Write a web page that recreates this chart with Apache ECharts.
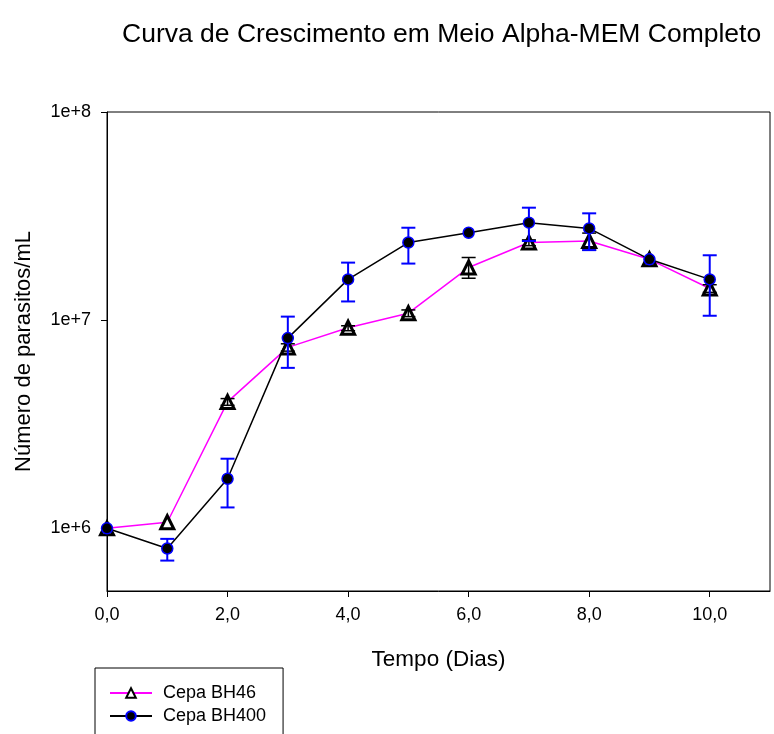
<!DOCTYPE html>
<html>
<head>
<meta charset="utf-8">
<script src="https://cdn.jsdelivr.net/npm/echarts@6/dist/echarts.min.js"></script>
<style>
html,body{margin:0;padding:0;background:#fff;}
#chart{width:774px;height:734px;}
</style>
</head>
<body>
<div id="chart"></div>
<script>
var days = [0, 1, 2, 3, 4, 5, 6, 7, 8, 9, 10];
var xTicks = [0, 2, 4, 6, 8, 10];

// Cepa BH46 (triangulos)
var bh46 = [1.0e6, 1.07e6, 4.05e6, 7.4e6, 9.2e6, 1.08e7, 1.79e7, 2.36e7, 2.40e7, 1.96e7, 1.42e7];
var bh46Low = [null, null, 3.9e6, 7.1e6, 8.9e6, 1.04e7, 1.59e7, 2.28e7, 2.17e7, null, 1.36e7];
var bh46High = [null, null, 4.2e6, 7.7e6, 9.4e6, 1.12e7, 2.0e7, 2.43e7, 2.62e7, null, 1.48e7];

// Cepa BH400 (circulos)
var bh400 = [1.0e6, 8.0e5, 1.73e6, 8.2e6, 1.57e7, 2.36e7, 2.63e7, 2.94e7, 2.76e7, 1.96e7, 1.57e7];
var bh400Low = [null, 7.0e5, 1.26e6, 5.9e6, 1.23e7, 1.87e7, null, 2.4e7, 2.17e7, null, 1.05e7];
var bh400High = [null, 8.9e5, 2.16e6, 1.04e7, 1.89e7, 2.78e7, null, 3.47e7, 3.26e7, null, 2.05e7];

var font = 'Liberation Sans, Arial, sans-serif';

function pairs(xs, ys) {
	var out = [];
	for (var i = 0; i < xs.length; i++) {
		out.push([xs[i], ys[i]]);
	}
	return out;
}

function errData(xs, lo, hi) {
	var out = [];
	for (var i = 0; i < xs.length; i++) {
		if (lo[i] != null && hi[i] != null) {
			out.push([xs[i], lo[i], hi[i]]);
		}
	}
	return out;
}

// barras de erro com "tampas"
function errRender(color, width) {
	return function (params, api) {
		var x = api.value(0);
		var lo = api.coord([x, api.value(1)]);
		var hi = api.coord([x, api.value(2)]);
		var cap = 7;
		var style = { stroke: color, lineWidth: width };
		return {
			type: 'group',
			children: [
				{ type: 'line', shape: { x1: lo[0], y1: lo[1], x2: hi[0], y2: hi[1] }, style: style },
				{ type: 'line', shape: { x1: lo[0] - cap, y1: lo[1], x2: lo[0] + cap, y2: lo[1] }, style: style },
				{ type: 'line', shape: { x1: hi[0] - cap, y1: hi[1], x2: hi[0] + cap, y2: hi[1] }, style: style }
			]
		};
	};
}

var myChart = echarts.init(document.getElementById('chart'));

var option = {
	backgroundColor: '#fff',
	animation: false,
	title: {
		text: 'Curva de Crescimento em Meio Alpha-MEM Completo',
		left: 117,
		top: 16,
		textStyle: { fontFamily: font, fontSize: 26.5, fontWeight: 'normal', color: '#000' }
	},
	legend: {
		orient: 'vertical',
		left: 95,
		top: 668,
		height: 200,
		padding: [16, 17, 30, 14],
		borderColor: '#000',
		borderWidth: 1,
		itemWidth: 42,
		itemHeight: 12,
		itemGap: 5,
		data: ['Cepa BH46', 'Cepa BH400'],
		textStyle: { fontFamily: font, fontSize: 18, color: '#000', padding: [0, 0, 0, 6] }
	},
	grid: {
		left: 107,
		right: 4,
		top: 112,
		bottom: 143,
		show: true,
		borderColor: '#000',
		borderWidth: 1
	},
	xAxis: {
		type: 'value',
		min: 0,
		max: 11,
		name: 'Tempo (Dias)',
		nameLocation: 'middle',
		nameGap: 57,
		nameTextStyle: { fontFamily: font, fontSize: 22.5, color: '#000' },
		axisLine: { lineStyle: { color: '#000', width: 1 } },
		axisTick: { show: true, length: 6, customValues: xTicks, lineStyle: { color: '#000', width: 1 } },
		axisLabel: {
			customValues: xTicks,
			margin: 15,
			fontFamily: font,
			fontSize: 18,
			color: '#000',
			formatter: function (v) { return v.toFixed(1).replace('.', ','); }
		},
		splitLine: { show: false }
	},
	yAxis: {
		type: 'log',
		logBase: 10,
		min: 5e5,
		max: 1e8,
		name: 'Número de parasitos/mL',
		nameLocation: 'middle',
		nameGap: 72,
		nameTextStyle: { fontFamily: font, fontSize: 22, color: '#000' },
		axisLine: { show: true, lineStyle: { color: '#000', width: 1 } },
		axisTick: { show: true, length: 6, lineStyle: { color: '#000', width: 1 } },
		axisLabel: {
			showMinLabel: false,
			margin: 16,
			fontFamily: font,
			fontSize: 18,
			color: '#000',
			formatter: function (v) {
				var e = Math.log10(v);
				if (Math.abs(e - Math.round(e)) > 1e-6) return '';
				return '1e+' + Math.round(e);
			}
		},
		splitLine: { show: false }
	},
	series: [
		{
			name: 'Cepa BH46',
			type: 'line',
			data: pairs(days, bh46),
			symbol: 'triangle',
			symbolSize: 13,
			z: 2,
			lineStyle: { color: '#ff00ff', width: 1.5 },
			itemStyle: { color: '#fff', borderColor: '#000', borderWidth: 3 }
		},
		{
			name: 'Cepa BH46 erro',
			type: 'custom',
			data: errData(days, bh46Low, bh46High),
			encode: { x: 0, y: [1, 2] },
			renderItem: errRender('#000', 1.5),
			z: 3,
			silent: true
		},
		{
			name: 'Cepa BH400 erro',
			type: 'custom',
			data: errData(days, bh400Low, bh400High),
			encode: { x: 0, y: [1, 2] },
			renderItem: errRender('#0000ff', 2),
			z: 4,
			silent: true
		},
		{
			name: 'Cepa BH400',
			type: 'line',
			data: pairs(days, bh400),
			symbol: 'circle',
			symbolSize: 11,
			z: 5,
			lineStyle: { color: '#000', width: 1.5 },
			itemStyle: { color: '#000', borderColor: '#0000ff', borderWidth: 1.5 }
		}
	]
};

myChart.setOption(option);
window.addEventListener('resize', function () {
	myChart.resize();
});
</script>
</body>
</html>
